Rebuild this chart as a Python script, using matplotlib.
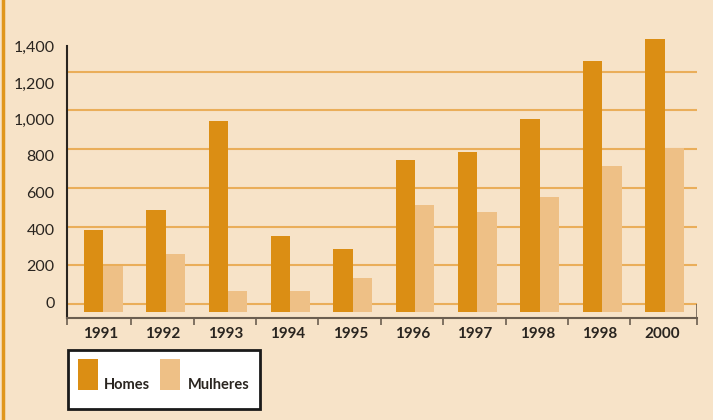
import numpy as np
import matplotlib.pyplot as plt
from matplotlib.patches import Rectangle

years = ["1991", "1992", "1993", "1994", "1995", "1996", "1997", "1998", "1998", "2000"]
homes = [385, 485, 945, 350, 285, 745, 785, 955, 1255, 1370]
mulheres = [195, 260, 65, 65, 135, 510, 475, 555, 715, 805]
yticks = [0, 200, 400, 600, 800, 1000, 1200, 1400]
ylabels = ["0", "200", "400", "600", "800", "1,000", "1,200", "1,400"]

BG = "#F7E3C8"
C_H = "#DB8E14"
C_M = "#EEC086"
GRID = "#EAAE5A"
BASE = -41  # bars start a bit under the zero line, like the original

plt.rcParams['font.family'] = ['Lato', 'DejaVu Sans']

fig = plt.figure(figsize=(7.13, 4.2), dpi=100, facecolor=BG)
ax = fig.add_axes([67/713, 102/420, 630/713, 272/420], facecolor=BG)

x = np.arange(len(years))
w = 0.31
h = np.array(homes) - BASE
m = np.array(mulheres) - BASE
ax.bar(x - w/2, h, w, bottom=BASE, color=C_H, zorder=3, clip_on=False)
ax.bar(x + w/2, m, w, bottom=BASE, color=C_M, zorder=3, clip_on=False)

ax.set_xlim(-0.58, 9.52)
ax.set_ylim(-72, 1333)
for v in yticks[:-1]:
    ax.axhline(v, color=GRID, lw=1.5, zorder=1)
ax.vlines(9.52, -72, 0, color="#6b5e50", lw=1.2, zorder=4)

for s in ["top", "right"]:
    ax.spines[s].set_visible(False)
ax.spines["left"].set_color("#2a2520")
ax.spines["left"].set_linewidth(1.5)
ax.spines["bottom"].set_color("#6b5e50")
ax.spines["bottom"].set_linewidth(1.5)

bounds = [-0.58] + [i + 0.45 for i in range(9)] + [9.52]
ax.set_xticks(bounds)
ax.set_xticklabels([])
ax.tick_params(axis="x", length=5, width=1.2, color="#6b5e50", direction="out")
ax.set_yticks([])
for i, yr in enumerate(years):
    ax.text(i - 0.04, -0.034, yr, transform=ax.get_xaxis_transform(), ha="center", va="top",
            fontsize=11, fontweight="bold", color="#2a2520")

# y labels sit on their own slightly tighter scale in the original
ax2 = ax.twinx()
ax2.set_ylim(-87, 1402)
ax2.yaxis.tick_left()
ax2.set_yticks(yticks)
ax2.set_yticklabels(ylabels)
ax2.tick_params(axis="y", length=0, pad=9, labelsize=11.5, labelcolor="#2a2520")
for s in ax2.spines.values():
    s.set_visible(False)

# left orange border
fig.add_artist(plt.Line2D([3/713, 3/713], [0, 1], color="#E0961C", lw=2.5))

# legend box
fig.add_artist(Rectangle((68/713, 11/420), 192/713, 59/420, facecolor="white",
                         edgecolor="#1a1a1a", lw=2))
fig.add_artist(Rectangle((78/713, 30/420), 20/713, 31/420, facecolor=C_H, edgecolor="none"))
fig.add_artist(Rectangle((160/713, 30/420), 20/713, 31/420, facecolor=C_M, edgecolor="none"))
fig.text(104/713, 35/420, "Homes", ha="left", va="center", fontsize=10.5,
         fontweight="bold", color="#2a2520")
fig.text(188/713, 35/420, "Mulheres", ha="left", va="center", fontsize=10.5,
         fontweight="bold", color="#2a2520")

fig.savefig("out.png", dpi=100, facecolor=BG)
